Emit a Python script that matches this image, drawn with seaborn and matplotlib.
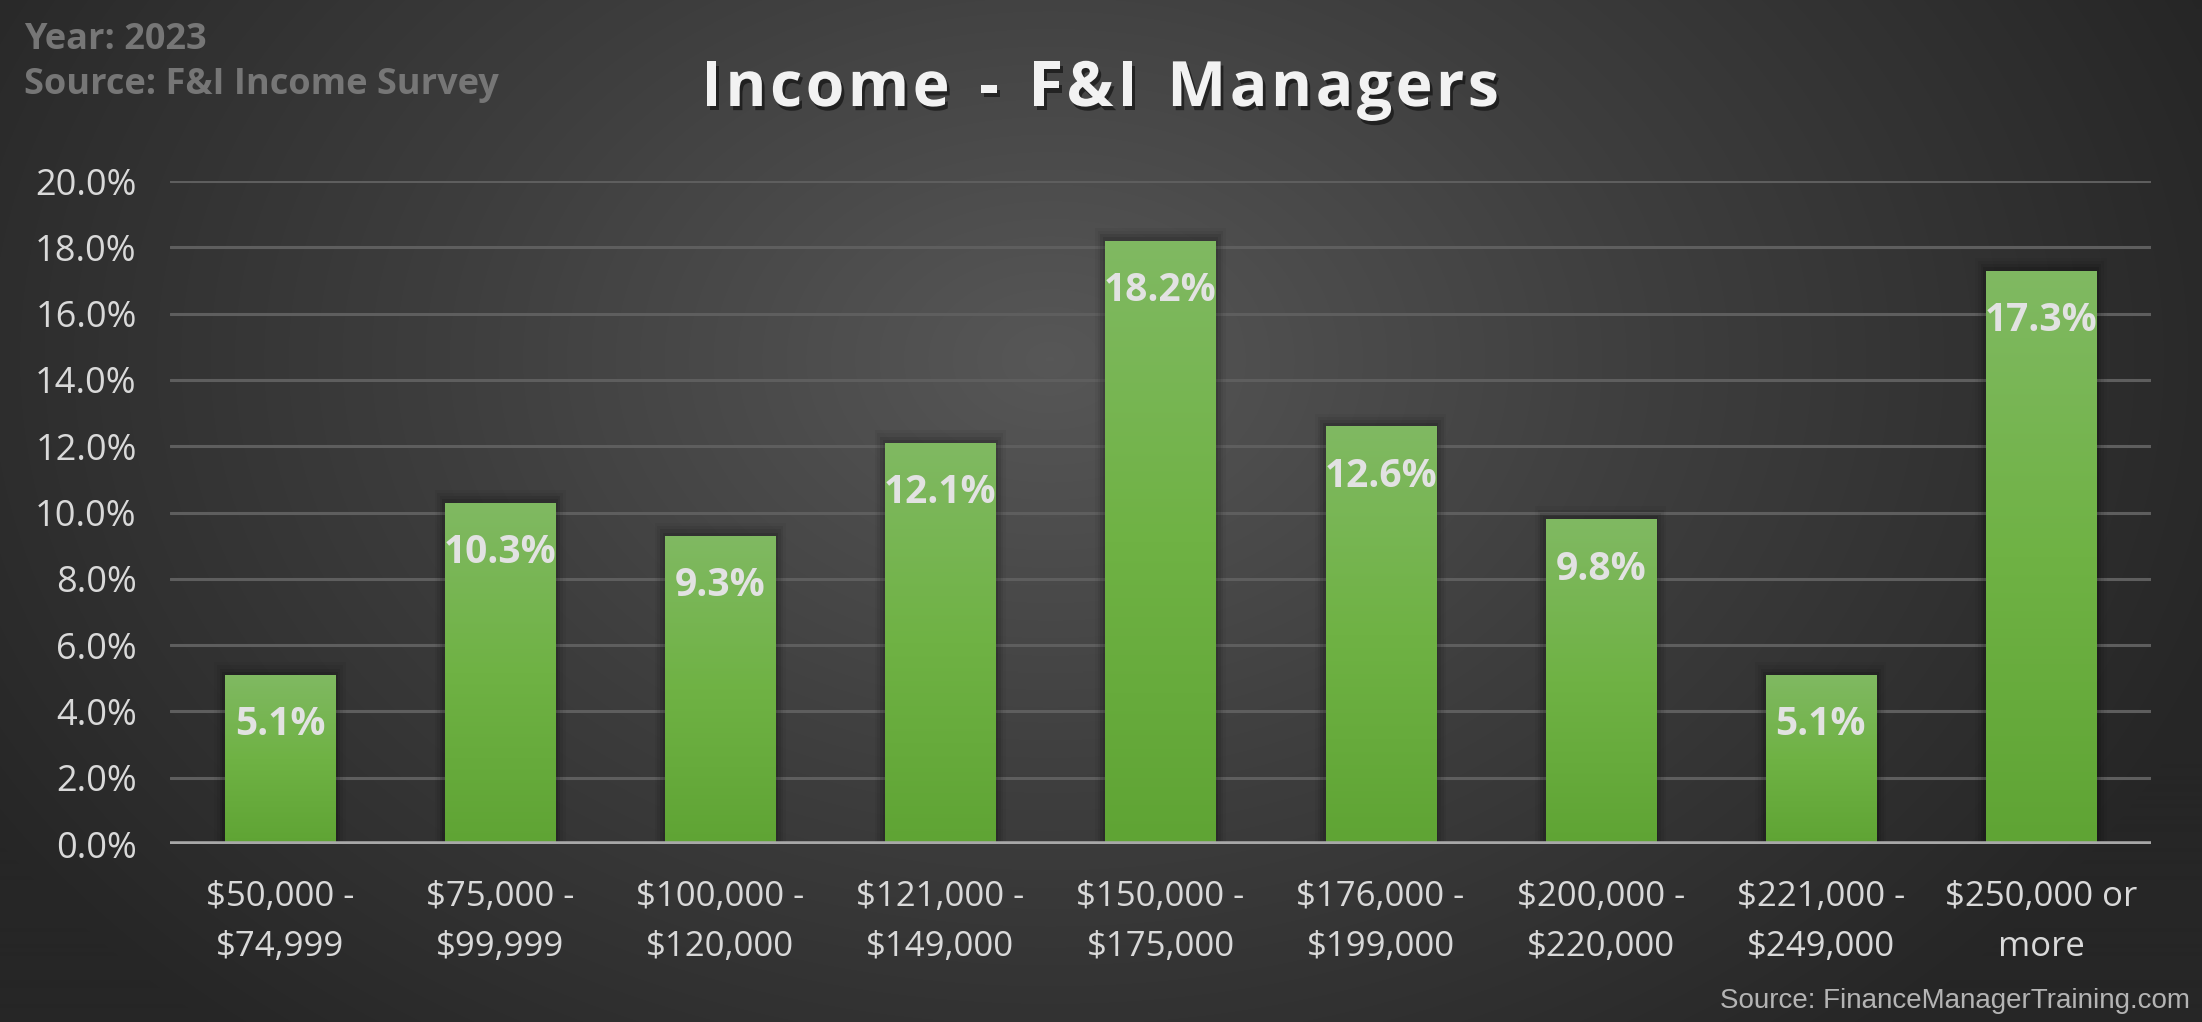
import numpy as np
import pandas as pd
import matplotlib
matplotlib.use("Agg")
import matplotlib.pyplot as plt
import seaborn as sns
from matplotlib.colors import LinearSegmentedColormap
from matplotlib.patches import Rectangle
import matplotlib.patheffects as pe

categories = ["$50,000 -\n$74,999", "$75,000 -\n$99,999", "$100,000 -\n$120,000",
              "$121,000 -\n$149,000", "$150,000 -\n$175,000", "$176,000 -\n$199,000",
              "$200,000 -\n$220,000", "$221,000 -\n$249,000", "$250,000 or\nmore"]
values = [5.1, 10.3, 9.3, 12.1, 18.2, 12.6, 9.8, 5.1, 17.3]
value_labels = ["5.1%", "10.3%", "9.3%", "12.1%", "18.2%", "12.6%", "9.8%", "5.1%", "17.3%"]
yticks = [0, 2, 4, 6, 8, 10, 12, 14, 16, 18, 20]
title = "Income - F&I Managers"

df = pd.DataFrame({"category": categories, "value": values})

sns.set_theme(style="dark")
plt.rcParams['font.family'] = ['Open Sans', 'DejaVu Sans']

W, H, DPI = 2202, 1022, 100
fig = plt.figure(figsize=(W / DPI, H / DPI), dpi=DPI)

# background radial gradient
bg = fig.add_axes([0, 0, 1, 1], zorder=-10)
yy, xx = np.mgrid[0:H, 0:W]
cx, cy = 1050, 360
r = np.sqrt(((xx - cx) / 1250.0) ** 2 + ((yy - cy) / 900.0) ** 2)
r = np.clip(r, 0, 1)
bg_cmap = LinearSegmentedColormap.from_list("bg", ["#575757", "#3d3d3d", "#262626"])
bg.imshow(r, cmap=bg_cmap, aspect="auto", extent=[0, 1, 0, 1], vmin=0, vmax=1)
bg.axis("off")

ax = fig.add_axes([170 / W, 1 - 844 / H, (2151 - 170) / W, (844 - 181) / H])
ax.patch.set_alpha(0)

sns.barplot(data=df, x="category", y="value", ax=ax, color="#6aae40",
            width=0.5, saturation=1, zorder=3, linewidth=0, edgecolor="none")

ax.set_ylim(0, 20)
ax.set_xlim(-0.5, len(categories) - 0.5)
ax.set_yticks(yticks)
ax.set_yticklabels([f"{t:.1f}%" for t in yticks])
ax.set_xlabel("")
ax.set_ylabel("")
for s in ax.spines.values():
    s.set_visible(False)
ax.grid(False)
for t in yticks[1:]:
    ax.axhline(t, color="#5e5e5e", lw=2.2, zorder=1)
ax.axhline(0, color="#a8a8a8", lw=4, zorder=5)

ax.tick_params(axis="y", colors="#d9d9d9", labelsize=26, length=0, pad=24)
ax.tick_params(axis="x", colors="#d9d9d9", labelsize=25, length=0, pad=26)
for lbl in ax.get_xticklabels():
    lbl.set_linespacing(1.6)

# gradient fill + shadow for bars
grad_cmap = LinearSegmentedColormap.from_list("g", ["#5fa434", "#6fb244", "#80b962"])
grad = np.linspace(0, 1, 256).reshape(-1, 1)
for p in ax.patches:
    x0, y0 = p.get_x(), p.get_y()
    w, h = p.get_width(), p.get_height()
    for k, a in enumerate([0.10, 0.08, 0.06, 0.04]):
        d = 0.012 * (k + 1)
        sh = Rectangle((x0 - d, y0), w + 2 * d, h + d * 8, facecolor="black",
                       alpha=a, edgecolor="none", zorder=2)
        ax.add_patch(sh)
    im = ax.imshow(grad, cmap=grad_cmap, aspect="auto", origin="lower",
                   extent=[x0, x0 + w, y0, y0 + h], zorder=4)
    im.set_clip_path(p)
ax.set_xlim(-0.5, len(categories) - 0.5)
ax.set_ylim(0, 20)

for i, (v, lab) in enumerate(zip(values, value_labels)):
    ax.annotate(lab, (i, v), xytext=(0, -36), textcoords="offset points",
                ha="center", va="center", fontsize=28, fontweight="bold",
                color="#e2e2e2", zorder=6)

# title with letter spacing
renderer = fig.canvas.get_renderer()
tsize = 45
track = 3.5  # pixels between characters
shadow = [pe.withSimplePatchShadow(offset=(2, -3), shadow_rgbFace="black", alpha=0.5)]
widths = []
for ch in title:
    t = fig.text(0, 0, ch if ch != " " else "n", fontsize=tsize, fontweight="bold")
    bb = t.get_window_extent(renderer)
    widths.append(bb.width * (0.55 if ch == " " else 1.0))
    t.remove()
total = sum(widths) + track * (len(title) - 1)
xpos = 1100 - total / 2
for ch, wch in zip(title, widths):
    if ch != " ":
        fig.text(xpos / W, 1 - 82 / H, ch, ha="left", va="center_baseline",
                 fontsize=tsize, fontweight="bold", color="#f2f2f2", path_effects=shadow)
    xpos += wch + track

fig.text(24 / W, 1 - 40 / H, "Year: 2023", ha="left", va="center",
         fontsize=26, fontweight="bold", color="#767676")
fig.text(24 / W, 1 - 85 / H, "Source: F&I Income Survey", ha="left", va="center",
         fontsize=26, fontweight="bold", color="#767676")
fig.text(2190 / W, 1 - 1001 / H, "Source: FinanceManagerTraining.com", ha="right",
         va="center", fontsize=20, color="#b4b4b4", family=["Liberation Sans", "DejaVu Sans"])

fig.savefig("out.png", dpi=DPI)
